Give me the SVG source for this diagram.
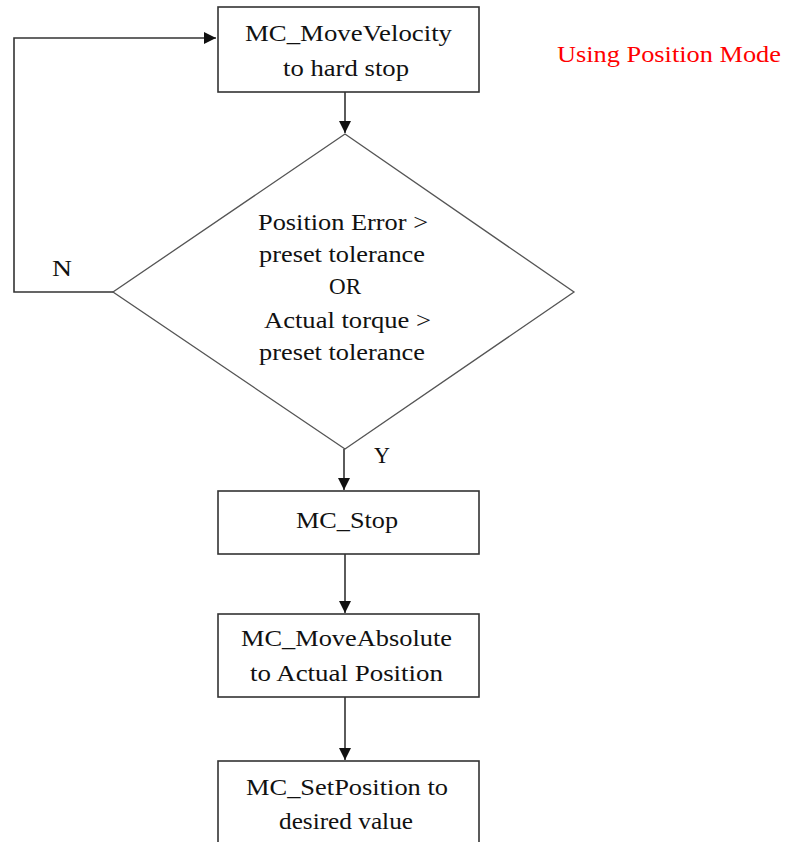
<svg xmlns="http://www.w3.org/2000/svg" width="786" height="842" viewBox="0 0 786 842">
<style>
.box{fill:#fff;stroke:#333;stroke-width:1.6}
.dia{fill:#fff;stroke:#555;stroke-width:1.3}
.t{font-size:23px;fill:#111;text-anchor:middle}
.red{font-size:23px;fill:#ff0000}
.c{fill:none;stroke:#333;stroke-width:1.6}
</style>
<defs>
<marker id="arr" markerWidth="12" markerHeight="12" refX="12" refY="6" orient="auto" markerUnits="userSpaceOnUse">
<path d="M0,0 L12,6 L0,12 Z" fill="#111"/>
</marker>
</defs>
<rect width="786" height="842" fill="#fff"/>
<g font-family="'Liberation Serif', 'DejaVu Serif', serif">
<g id="connectors">
<polyline class="c" points="113,292 14,292 14,38 216,38" marker-end="url(#arr)"/>
<line class="c" x1="345" y1="92" x2="345" y2="133" marker-end="url(#arr)"/>
<line class="c" x1="344" y1="449" x2="344" y2="490" marker-end="url(#arr)"/>
<line class="c" x1="345" y1="554" x2="345" y2="613" marker-end="url(#arr)"/>
<line class="c" x1="345" y1="697" x2="345" y2="760" marker-end="url(#arr)"/>
<text class="t" x="62" y="276" textLength="20" lengthAdjust="spacingAndGlyphs">N</text>
<text class="t" x="382" y="463" textLength="16" lengthAdjust="spacingAndGlyphs">Y</text>
</g>
<g id="n1">
<rect class="box" x="218" y="7" width="261" height="85"/>
<text class="t" x="348.5" y="41" textLength="207" lengthAdjust="spacingAndGlyphs">MC_MoveVelocity</text>
<text class="t" x="346" y="76" textLength="126" lengthAdjust="spacingAndGlyphs">to hard stop</text>
</g>
<g id="note">
<text class="red" x="557" y="62" textLength="224" lengthAdjust="spacingAndGlyphs">Using Position Mode</text>
</g>
<g id="n2">
<polygon class="dia" points="345,134 574,292 345,449 113,292"/>
<text class="t" x="343" y="230" textLength="170" lengthAdjust="spacingAndGlyphs">Position Error &gt;</text>
<text class="t" x="342" y="262" textLength="166" lengthAdjust="spacingAndGlyphs">preset tolerance</text>
<text class="t" x="345" y="294" textLength="32" lengthAdjust="spacingAndGlyphs">OR</text>
<text class="t" x="347.5" y="328" textLength="167" lengthAdjust="spacingAndGlyphs">Actual torque &gt;</text>
<text class="t" x="342" y="360" textLength="166" lengthAdjust="spacingAndGlyphs">preset tolerance</text>
</g>
<g id="n3">
<rect class="box" x="218" y="491" width="261" height="63"/>
<text class="t" x="347" y="528" textLength="102" lengthAdjust="spacingAndGlyphs">MC_Stop</text>
</g>
<g id="n4">
<rect class="box" x="218" y="614" width="261" height="83"/>
<text class="t" x="346.5" y="646" textLength="211" lengthAdjust="spacingAndGlyphs">MC_MoveAbsolute</text>
<text class="t" x="346.5" y="681" textLength="193" lengthAdjust="spacingAndGlyphs">to Actual Position</text>
</g>
<g id="n5">
<rect class="box" x="218" y="761" width="261" height="90"/>
<text class="t" x="347" y="795" textLength="202" lengthAdjust="spacingAndGlyphs">MC_SetPosition to</text>
<text class="t" x="346" y="829" textLength="134" lengthAdjust="spacingAndGlyphs">desired value</text>
</g>
</g>
</svg>
